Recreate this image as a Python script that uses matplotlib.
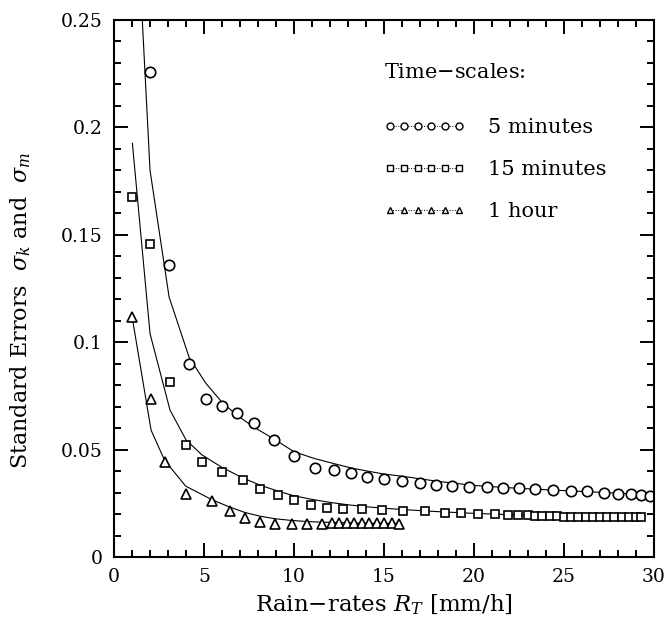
import matplotlib
matplotlib.use("Agg")
import matplotlib.pyplot as plt
from matplotlib.lines import Line2D
from matplotlib.ticker import MultipleLocator, FormatStrFormatter

plt.rcParams["font.family"] = ["DejaVu Serif"]
plt.rcParams["mathtext.fontset"] = "dejavuserif"

# 5 minute time-scale: estimated errors and fitted curve
x5 = [2.0, 3.06, 4.17, 5.09, 6.0, 6.83, 7.76, 8.87, 10.0, 11.15, 12.2, 13.15,
      14.07, 15.0, 16.0, 17.0, 17.9, 18.8, 19.7, 20.7, 21.6, 22.5, 23.4, 24.4,
      25.4, 26.3, 27.2, 28.0, 28.7, 29.3, 29.8]
y5 = [0.226, 0.136, 0.090, 0.0734, 0.0705, 0.0672, 0.0622, 0.0545, 0.047,
      0.0413, 0.0405, 0.0393, 0.0374, 0.0364, 0.0355, 0.0345, 0.0335, 0.0329,
      0.0326, 0.0326, 0.0323, 0.0320, 0.0317, 0.0312, 0.0309, 0.0305, 0.0299,
      0.0295, 0.0292, 0.0288, 0.0285]
fit5_x = [1.57, 2.0, 3.06, 4.17, 5.09, 6.0, 6.83, 7.76, 8.87, 10.0, 11.15, 12.2,
          13.15, 14.07, 15.0, 16.0, 18.0, 20.0, 22.0, 24.0, 26.0, 28.0, 30.0]
fit5_y = [0.25, 0.18, 0.121, 0.093, 0.081, 0.072, 0.066, 0.0605, 0.055, 0.049,
          0.0458, 0.0435, 0.0415, 0.0400, 0.0386, 0.0376, 0.0352, 0.0333,
          0.0322, 0.0313, 0.0305, 0.0297, 0.0290]

# 15 minute time-scale
x15 = [1.02, 2.0, 3.11, 4.0, 4.89, 5.98, 7.15, 8.13, 9.13, 10.0, 10.94, 11.83,
       12.74, 13.78, 14.9, 16.04, 17.28, 18.39, 19.28, 20.24, 21.17, 21.9,
       22.46, 23.0, 23.4, 23.8, 24.2, 24.6, 25.0, 25.4, 25.8, 26.2, 26.6, 27.0,
       27.4, 27.8, 28.2, 28.6, 29.0, 29.3]
y15 = [0.1674, 0.1459, 0.0813, 0.052, 0.0442, 0.0394, 0.0357, 0.0317, 0.0287,
       0.0263, 0.0243, 0.0228, 0.0222, 0.0222, 0.0219, 0.0216, 0.0215, 0.0206,
       0.0203, 0.0200, 0.0198, 0.0197, 0.0196, 0.0194, 0.0192, 0.0191, 0.0190,
       0.0189, 0.0188, 0.0187, 0.0186, 0.0186, 0.0185, 0.0185, 0.0185, 0.0186,
       0.0186, 0.0187, 0.0187, 0.0188]
fit15_x = [1.02, 2.0, 3.11, 4.0, 4.89, 5.98, 7.15, 8.13, 9.13, 10.0, 11.0, 12.0,
           13.0, 14.0, 15.0, 16.0, 18.0, 20.0, 22.0, 24.0, 26.0, 28.0, 29.3]
fit15_y = [0.1926, 0.104, 0.0684, 0.0545, 0.0475, 0.0418, 0.0368, 0.0334,
           0.0306, 0.0285, 0.0268, 0.0254, 0.0243, 0.0234, 0.0227, 0.0221,
           0.0211, 0.0203, 0.0197, 0.0192, 0.0189, 0.0187, 0.0186]

# 1 hour time-scale
x60 = [1.02, 2.06, 2.81, 3.98, 5.43, 6.44, 7.28, 8.11, 8.94, 9.87, 10.74,
       11.54, 12.09, 12.52, 12.93, 13.33, 13.76, 14.18, 14.59, 15.0, 15.43,
       15.85]
y60 = [0.1116, 0.0735, 0.0444, 0.0293, 0.0262, 0.0214, 0.018, 0.0165, 0.0155,
       0.0154, 0.0155, 0.0155, 0.0157, 0.0157, 0.0157, 0.0157, 0.0157, 0.0157,
       0.0157, 0.0156, 0.0156, 0.0155]
fit60_x = [1.02, 2.06, 2.81, 3.98, 5.43, 6.44, 7.28, 8.11, 8.94, 9.87, 10.74,
           11.54, 12.5, 13.5, 14.5, 15.85]
fit60_y = [0.111, 0.059, 0.045, 0.033, 0.0267, 0.0232, 0.0207, 0.019, 0.0178,
           0.0170, 0.0165, 0.0162, 0.0160, 0.0158, 0.0157, 0.0156]

fig = plt.figure(figsize=(6.68, 6.24), dpi=100)
ax = fig.add_axes([0.1707, 0.1074, 0.8083, 0.8606])

for fx, fy in [(fit5_x, fit5_y), (fit15_x, fit15_y), (fit60_x, fit60_y)]:
    ax.plot(fx, fy, color="black", lw=0.8)

mk = dict(linestyle="none", mfc="white", mec="black", mew=1.2)
ax.plot(x5, y5, marker="o", ms=7.5, **mk)
ax.plot(x15, y15, marker="s", ms=5.5, **mk)
ax.plot(x60, y60, marker="^", ms=6.5, **mk)

ax.set_xlim(0, 30)
ax.set_ylim(0, 0.25)
ax.xaxis.set_major_locator(MultipleLocator(5))
ax.xaxis.set_minor_locator(MultipleLocator(1))
ax.yaxis.set_major_locator(MultipleLocator(0.05))
ax.yaxis.set_minor_locator(MultipleLocator(0.01))
ax.yaxis.set_major_formatter(FormatStrFormatter("%g"))
ax.tick_params(which="both", direction="in", top=True, right=True,
               labelsize=13.5, width=1.4)
ax.tick_params(which="major", length=10, pad=8)
ax.tick_params(which="minor", length=5)
for s in ax.spines.values():
    s.set_linewidth(1.5)

ax.set_xlabel(r"Rain$-$rates $R_T$ [mm/h]", fontsize=16.5, labelpad=5)
ax.set_ylabel(r"Standard Errors  $\sigma_k$ and  $\sigma_m$", fontsize=16)
ax.yaxis.set_label_coords(-0.15, 0.46)

lk = dict(color="black", linestyle=":", lw=0.7, mfc="white", mec="black",
          mew=1.0)
handles = [Line2D([], [], marker="o", ms=5, **lk),
           Line2D([], [], marker="s", ms=4, **lk),
           Line2D([], [], marker="^", ms=4.5, **lk)]
leg = ax.legend(handles, ["5 minutes", "15 minutes", "1 hour"],
                title=r"Time$-$scales:", title_fontsize=15, fontsize=15,
                loc="upper left", bbox_to_anchor=(0.465, 0.955), frameon=False,
                numpoints=6, handlelength=3.9, handletextpad=1.1,
                labelspacing=1.1, alignment="left")
# extra room between the title and the first entry
leg._legend_box.sep = 26

fig.savefig("out.png", dpi=100)
